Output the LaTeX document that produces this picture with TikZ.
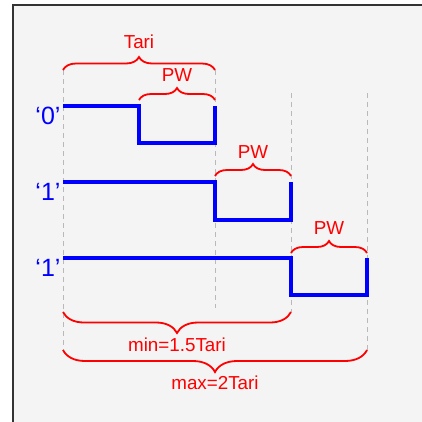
\documentclass[tikz,border=0pt]{standalone}
\usepackage{fontspec}
\setmainfont{Liberation Sans}
\usepackage{tikz}
\usetikzlibrary{decorations.pathreplacing}
\definecolor{sigblue}{RGB}{0,0,255}
\definecolor{markred}{RGB}{255,0,0}
\definecolor{gridgray}{RGB}{185,185,185}
\definecolor{panelgray}{RGB}{244,244,244}
\tikzset{
  panel/.style={
    fill=panelgray,
    draw=black!80,
    line width=1.6pt
  },
  guide/.style={
    draw=gridgray,
    line width=0.9pt,
    dash pattern=on 5pt off 4pt
  },
  wave/.style={
    draw=sigblue,
    line width=3.1pt
  },
  bracemark/.style={
    draw=markred,
    line width=1.8pt,
    decorate,
    decoration={brace, amplitude=#1}
  },
  bitlabel/.style={
    text=sigblue,
    font=\fontsize{25}{28}\selectfont,
    inner sep=0pt
  },
  spanlabel/.style={
    text=markred,
    font=\fontsize{18.8}{21}\selectfont,
    inner sep=0pt
  }
}

\begin{document}
\begin{tikzpicture}[x=1pt, y=-1pt]
\useasboundingbox (0,0) rectangle (422,421);
\clip (0,0) rectangle (422,421);
\fill[white] (0,0) rectangle (422,421);
\draw[panel] (13,5) rectangle (440,440);

% guide lines
\draw[guide] (63,70) -- (63,350);
\draw[guide] (215,70) -- (215,308);
\draw[guide] (291,93) -- (291,312);
\draw[guide] (367,93) -- (367,350);

% symbols
\draw[wave] (63,106) -- (139,106) -- (139,143) -- (215,143) -- (215,106);
\draw[wave] (63,182) -- (215,182) -- (215,220) -- (291,220) -- (291,182);
\draw[wave] (63,258) -- (291,258) -- (291,295) -- (367,295) -- (367,258);

\node[bitlabel] (bitzero) at (48,116) {‘0’};
\node[bitlabel] (bitone) at (48,192) {‘1’};
\node[bitlabel] (bitonetoo) at (48,268) {‘1’};

% upper braces
\draw[bracemark=13] (63,70) -- (215,70);
\draw[bracemark=12] (139,100) -- (215,100);
\draw[bracemark=12] (215,176) -- (291,176);
\draw[bracemark=12] (291,253) -- (367,253);

\node[spanlabel] (tari) at (139,42) {Tari};
\node[spanlabel] (pwzero) at (177,75) {PW};
\node[spanlabel] (pwone) at (253,152) {PW};
\node[spanlabel] (pwonetoo) at (329,228) {PW};

% lower braces
\draw[bracemark=21] (291,312) -- (63,312);
\draw[bracemark=22] (367,350) -- (63,350);

\node[spanlabel] (minlen) at (177,345) {min=1.5Tari};
\node[spanlabel] (maxlen) at (215,383) {max=2Tari};
\end{tikzpicture}
\end{document}
